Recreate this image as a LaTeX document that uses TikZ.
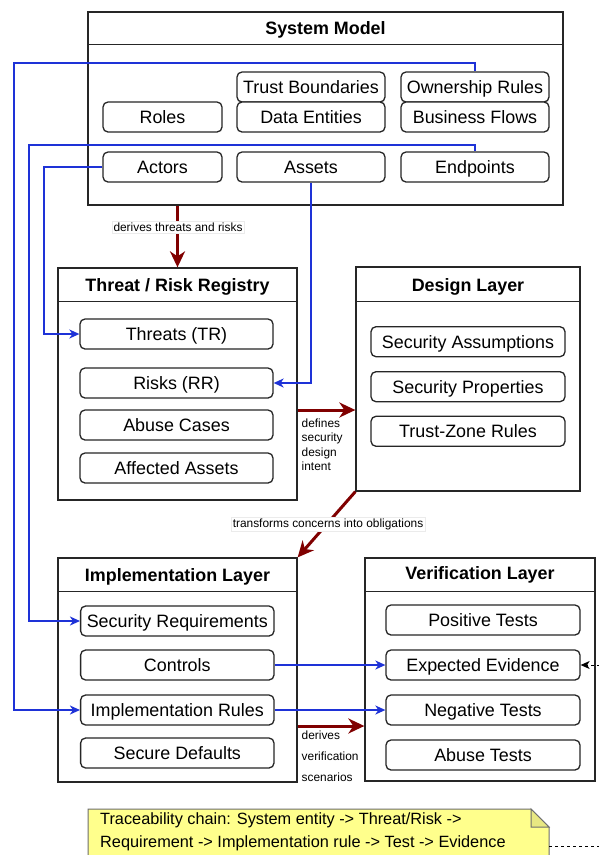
\documentclass[tikz,border=0pt]{standalone}
\usepackage{fontspec}
\setmainfont{Liberation Sans}
\usetikzlibrary{arrows.meta}
\definecolor{lnblue}{RGB}{30,50,215}
\definecolor{dred}{RGB}{128,0,0}
\definecolor{notey}{RGB}{255,255,140}
\definecolor{notefold}{RGB}{232,232,130}
\definecolor{notebd}{RGB}{110,110,110}
\newcommand{\mainfs}{\fontsize{17.9}{21}\selectfont}
\newcommand{\smallfs}{\fontsize{11.9}{14.5}\selectfont}
\newcommand{\smallwide}{\fontsize{11.9}{21.3}\selectfont}
\newcommand{\notefs}{\fontsize{16.3}{23}\selectfont}
\begin{document}
\begin{tikzpicture}[x=1pt,y=-1pt,
  container/.style={draw=black!85, line width=1.3pt, inner sep=0pt, fill=white},
  hdr/.style={draw=black!85, line width=1.3pt},
  item/.style={draw=black!85, line width=1.3pt, rounded corners=5pt, minimum height=30pt, inner sep=0pt, text height=12.8pt, text depth=0pt, fill=white, font=\mainfs},
  ttl/.style={font=\mainfs\bfseries, inner sep=0pt, text height=12.8pt, text depth=0pt},
  link/.style={draw=lnblue, line width=1.4pt, -{Stealth[length=10pt,width=9pt,inset=3pt]}},
  flow/.style={draw=dred, line width=3pt, -{Stealth[length=16pt,width=15pt,inset=5pt]}},
  lbl/.style={font=\smallfs, inner sep=1.5pt, fill=white, draw=black!8},
  side/.style={font=\smallfs, inner sep=0pt, align=left, anchor=west},
]
\useasboundingbox (0,0) rectangle (599,855);
\fill[white] (0,0) rectangle (599,855);

% containers
\node[container, minimum width=475pt, minimum height=193pt] (sm) at (325.5,108.5) {};
\draw[hdr] (sm.north west) ++(0,33) -- ++(475,0);
\node[ttl] (smT) at (325.5,28.5) {System Model};

\node[container, minimum width=239pt, minimum height=232pt] (trr) at (177.5,384) {};
\draw[hdr] (trr.north west) ++(0,34) -- ++(239,0);
\node[ttl] (trrT) at (177.5,285) {Threat / Risk Registry};

\node[container, minimum width=224pt, minimum height=224pt] (dl) at (468,379) {};
\draw[hdr] (dl.north west) ++(0,35) -- ++(224,0);
\node[ttl] (dlT) at (468,285) {Design Layer};

\node[container, minimum width=239pt, minimum height=224pt] (impl) at (177.5,670) {};
\draw[hdr] (impl.north west) ++(0,34) -- ++(239,0);
\node[ttl] (implT) at (177.5,575) {Implementation Layer};

\node[container, minimum width=230pt, minimum height=223pt] (ver) at (480,669.5) {};
\draw[hdr] (ver.north west) ++(0,34) -- ++(230,0);
\node[ttl] (verT) at (480,573.5) {Verification Layer};

% coordinates for routing
\coordinate (j1) at (14,63);
\coordinate (j2) at (29,145);
\coordinate (j3) at (44,334);
\coordinate (y410) at (0,410);
\coordinate (y726) at (0,726);
\coordinate (xr) at (610,846);

% system model items
\node[item, minimum width=148pt] (tb) at (311,87) {Trust Boundaries};
\node[item, minimum width=148pt] (own) at (475,87) {Ownership Rules};
\node[item, minimum width=119pt] (roles) at (162.5,117) {Roles};
\node[item, minimum width=148pt] (data) at (311,117) {Data Entities};
\node[item, minimum width=148pt] (bf) at (475,117) {Business Flows};
\node[item, minimum width=119pt] (actors) at (162.5,167) {Actors};
\node[item, minimum width=148pt] (assets) at (311,167) {Assets};
\node[item, minimum width=148pt] (endp) at (475,167) {Endpoints};

% threat registry items
\node[item, minimum width=193pt] (threats) at (176.5,334) {Threats (TR)};
\node[item, minimum width=193pt] (risks) at (176.5,383) {Risks (RR)};
\node[item, minimum width=193pt] (abuse) at (176.5,425) {Abuse Cases};
\node[item, minimum width=193pt] (affected) at (176.5,468) {Affected Assets};

% design items
\node[item, minimum width=194pt] (sa) at (468,341.7) {Security Assumptions};
\node[item, minimum width=194pt] (sp) at (468,386.7) {Security Properties};
\node[item, minimum width=194pt] (tz) at (468,431.3) {Trust-Zone Rules};

% implementation items
\node[item, minimum width=193.4pt] (sr) at (177.3,621) {Security Requirements};
\node[item, minimum width=193.4pt] (ctrl) at (177.3,665) {Controls};
\node[item, minimum width=193.4pt] (ir) at (177.3,710) {Implementation Rules};
\node[item, minimum width=193.4pt] (sd) at (177.3,753) {Secure Defaults};

% verification items
\node[item, minimum width=194pt] (pt) at (483,620) {Positive Tests};
\node[item, minimum width=194pt] (ee) at (483,665) {Expected Evidence};
\node[item, minimum width=194pt] (nt) at (483,710) {Negative Tests};
\node[item, minimum width=194pt] (at) at (483,755) {Abuse Tests};

% blue trace links
\draw[link] (own.north) |- (j1) |- (ir.west);
\draw[link] (endp.north) |- (j2) |- (sr.west);
\draw[link] (actors.west) -| (j3) -- (threats.west);
\draw[link] (assets.south) |- (risks.east);
\draw[link] (ctrl.east) -- (ctrl.east -| ee.west);
\draw[link] (ir.east) -- (ir.east -| nt.west);

% main flow arrows
\draw[flow] (sm.south -| trr.north) -- (trr.north);
\node[lbl] (l1) at (178,227) {derives threats and risks};

\draw[flow] (trr.east |- y410) -- (dl.west |- y410);
\node[side] (l2) at (301.5,444.5) {defines\\security\\design\\intent};

\draw[flow] (dl.south west) -- (impl.north east);
\node[lbl] (l3) at (328,524) {transforms concerns into obligations};

\draw[flow] (impl.east |- y726) -- (ver.west |- y726);
\node[side, font=\smallwide] (l4) at (301.5,756.3) {derives\\verification\\scenarios};

% note
\draw[draw=notebd, line width=1pt, fill=notey] (88,809) -- (531,809) -- (549,827) -- (549,880) -- (88,880) -- cycle;
\draw[draw=notebd, line width=1pt, fill=notefold] (531,809) -- (531,827) -- (549,827) -- cycle;
\node[font=\notefs, align=left, anchor=north west, inner sep=0pt] (note) at (100,812) {Traceability chain: System entity -> Threat/Risk ->\\Requirement -> Implementation rule -> Test -> Evidence};
\coordinate (noteR) at (549,846);
\draw[black, line width=1pt, dashed, -{Stealth[length=9pt,width=8pt,inset=2.5pt]}] (noteR) -- (xr) |- (ee.east);
\end{tikzpicture}
\end{document}
